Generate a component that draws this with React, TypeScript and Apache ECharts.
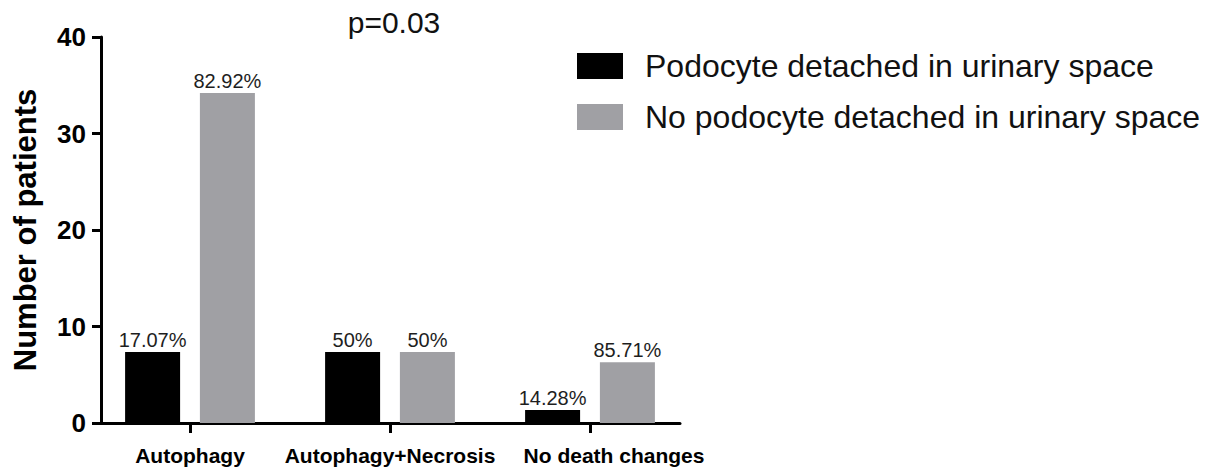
import React, { useEffect, useRef } from "react";
import * as echarts from "echarts";

const categories = ["Autophagy", "Autophagy+Necrosis", "No death changes"];
const seriesNames = [
  "Podocyte detached in urinary space",
  "No podocyte detached in urinary space",
];
const detachedValues = [7.35, 7.35, 1.35];
const notDetachedValues = [34.2, 7.35, 6.3];
const detachedLabels = ["17.07%", "50%", "14.28%"];
const notDetachedLabels = ["82.92%", "50%", "85.71%"];
const yTicks = { min: 0, max: 40, interval: 10 };
const annotation = "p=0.03";

const FONT = "'Liberation Sans', Arial, Helvetica, sans-serif";

export default function App() {
  const ref = useRef<HTMLDivElement>(null);
  useEffect(() => {
    if (!ref.current) return;
    const chart = echarts.init(ref.current, undefined, { renderer: "svg" });
    const labelStyle = {
      show: true,
      position: "top" as const,
      distance: 2,
      fontSize: 20,
      fontFamily: FONT,
      color: "#1e1e1e",
    };
    const catFont = {
      fontSize: 21,
      fontWeight: "bold" as const,
      fontFamily: FONT,
      color: "#000",
    };
    chart.setOption({
      animation: false,
      backgroundColor: "#ffffff",
      textStyle: { fontFamily: FONT },
      grid: [
        { left: 90, top: 37, width: 600, height: 386, containLabel: false },
        { left: 101, top: 37, width: 579, height: 386, containLabel: false },
      ],
      legend: {
        orient: "vertical",
        left: 572,
        top: 45,
        itemWidth: 46,
        itemHeight: 26,
        itemGap: 19,
        icon: "rect",
        data: seriesNames,
        textStyle: {
          fontSize: 32,
          fontFamily: FONT,
          color: "#111",
          padding: [0, 0, 0, 17],
        },
      },
      graphic: [
        {
          type: "text",
          x: 394,
          y: 22,
          style: {
            text: annotation,
            align: "center",
            verticalAlign: "middle",
            fontSize: 30,
            fontFamily: FONT,
            fill: "#111",
          },
        },
      ],
      xAxis: [
        {
          type: "category",
          gridIndex: 0,
          data: categories,
          axisLine: { show: false },
          axisTick: {
            show: true,
            alignWithLabel: true,
            length: 10,
            lineStyle: { width: 3, color: "#000" },
          },
          axisLabel: {
            interval: 0,
            ...catFont,
            margin: 22,
            formatter: (value: string, index: number) =>
              index === categories.length - 1 ? `{s|${value}}` : value,
            rich: {
              s: { ...catFont, padding: [0, 0, 0, 48] },
            },
          },
          splitLine: { show: false },
        },
        {
          type: "value",
          gridIndex: 1,
          min: 0,
          max: 1,
          axisLine: { show: true, lineStyle: { width: 3, color: "#000" } },
          axisTick: { show: false },
          axisLabel: { show: false },
          splitLine: { show: false },
        },
      ],
      yAxis: [
        {
          type: "value",
          gridIndex: 0,
          min: yTicks.min,
          max: yTicks.max,
          interval: yTicks.interval,
          show: false,
          splitLine: { show: false },
        },
        {
          type: "value",
          gridIndex: 1,
          min: yTicks.min,
          max: yTicks.max,
          interval: yTicks.interval,
          name: "Number of patients",
          nameLocation: "middle",
          nameGap: 60,
          nameTextStyle: {
            fontSize: 31,
            fontWeight: "bold",
            fontFamily: FONT,
            color: "#000",
          },
          axisLine: { show: true, lineStyle: { width: 3, color: "#000" } },
          axisTick: {
            show: true,
            length: 9,
            lineStyle: { width: 3, color: "#000" },
          },
          axisLabel: {
            fontSize: 26,
            fontWeight: "bold",
            fontFamily: FONT,
            color: "#000",
            margin: 15,
          },
          splitLine: { show: false },
        },
      ],
      series: [
        {
          name: seriesNames[0],
          type: "bar",
          xAxisIndex: 0,
          yAxisIndex: 0,
          data: detachedValues,
          barWidth: 55,
          barGap: "36%",
          itemStyle: { color: "#000000" },
          label: {
            ...labelStyle,
            formatter: (p: any) => detachedLabels[p.dataIndex],
          },
        },
        {
          name: seriesNames[1],
          type: "bar",
          xAxisIndex: 0,
          yAxisIndex: 0,
          data: notDetachedValues,
          barWidth: 55,
          barGap: "36%",
          itemStyle: { color: "#a0a0a4" },
          label: {
            ...labelStyle,
            formatter: (p: any) => notDetachedLabels[p.dataIndex],
          },
        },
      ],
    });
    return () => chart.dispose();
  }, []);
  return (
    <div
      ref={ref}
      style={{ position: "absolute", left: 0, top: 0, width: 1217, height: 471 }}
    />
  );
}
